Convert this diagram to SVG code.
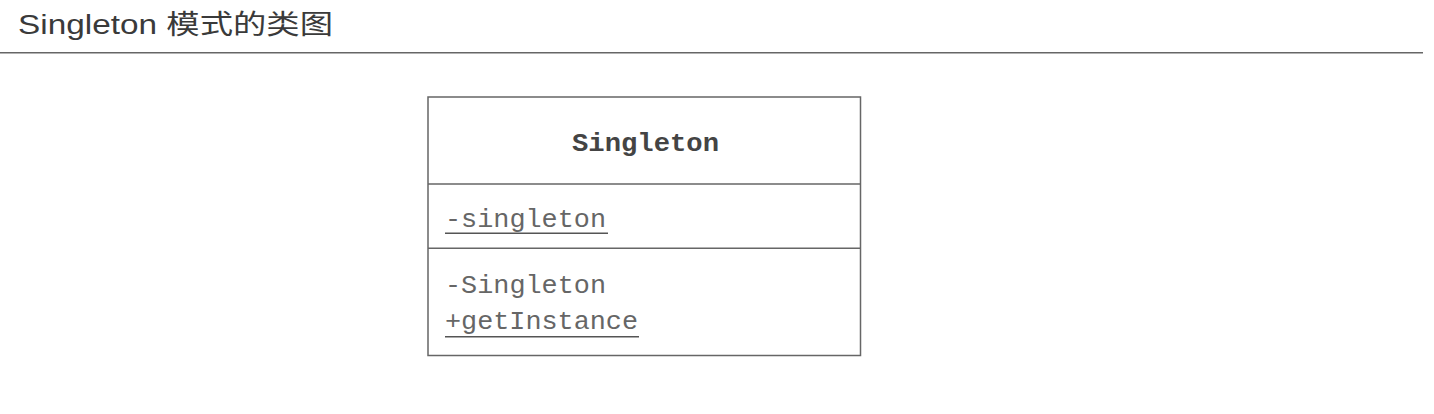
<svg xmlns="http://www.w3.org/2000/svg" width="1434" height="414" viewBox="0 0 1434 414">
<style>
.title{font-family:"Liberation Sans","Noto Sans CJK SC",sans-serif;font-size:27px;fill:#3a3a3a}
.mono{font-family:"Liberation Mono","DejaVu Sans Mono",monospace;font-size:25px;fill:#666}
.bold{font-weight:bold;fill:#444}
.box{fill:#fff;stroke:#666;stroke-width:1.5}
.rule{stroke:#666;stroke-width:1.5}
.ul{stroke:#555;stroke-width:1.5}
</style>
<rect width="1434" height="414" fill="#fff"/>
<g id="header">
<text class="title" x="18" y="34" textLength="315" lengthAdjust="spacingAndGlyphs">Singleton 模式的类图</text>
<line class="rule" x1="0" y1="52.7" x2="1423" y2="52.7"/>
</g>
<g id="singleton-class">
<rect class="box" x="428" y="97" width="432.5" height="258.5"/>
<line class="rule" x1="428" y1="184" x2="860.5" y2="184"/>
<line class="rule" x1="428" y1="248.3" x2="860.5" y2="248.3"/>
<text class="mono bold" x="572" y="151" textLength="147" lengthAdjust="spacingAndGlyphs">Singleton</text>
<text class="mono" x="445" y="227" textLength="161" lengthAdjust="spacingAndGlyphs">-singleton</text>
<line class="ul" x1="445" y1="233.3" x2="608" y2="233.3"/>
<text class="mono" x="445" y="293" textLength="161" lengthAdjust="spacingAndGlyphs">-Singleton</text>
<text class="mono" x="445" y="329" textLength="193" lengthAdjust="spacingAndGlyphs">+getInstance</text>
<line class="ul" x1="445" y1="336.7" x2="639" y2="336.7"/>
</g>
<g id="connectors"></g>
</svg>
